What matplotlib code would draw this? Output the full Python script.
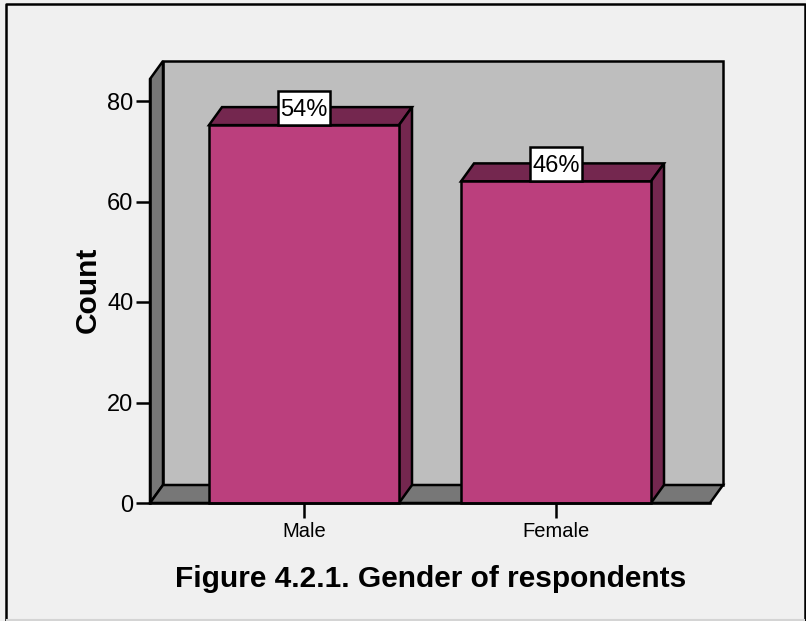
import matplotlib
matplotlib.use("Agg")
import matplotlib.pyplot as plt
from matplotlib.lines import Line2D
from matplotlib.patches import Polygon, Rectangle

plt.rcParams["font.family"] = ["Liberation Sans", "DejaVu Sans"]

categories = ["Male", "Female"]
counts = [75.2, 64.0]
percent_labels = ["54%", "46%"]
y_ticks = [0, 20, 40, 60, 80]

WALL = "#bebebe"
SIDE = "#777777"
BAR = "#bb3f7d"
BAR_DARK = "#74274f"
BG = "#f0f0f0"
LW = 1.8

W, H = 806, 621
fig = plt.figure(figsize=(W / 100, H / 100), dpi=100, facecolor=BG)

# cadre de l'image: noir sur trois cotes, gris clair en bas
fx = [5.5 / W, 5.5 / W, 805 / W, 805 / W]
fy = [0, 1 - 4 / H, 1 - 4 / H, 0]
fig.add_artist(Line2D(fx, fy, transform=fig.transFigure, color="black", linewidth=1.8))
fig.add_artist(Line2D([6.5 / W, 804 / W], [1 / H, 1 / H], transform=fig.transFigure,
                      color="#d4d4d4", linewidth=1.5))

# plan avant en pixels: x 150-710, y 79-503
ax = fig.add_axes([150 / W, 1 - 503 / H, 560 / W, 424 / H])
ax.set_xlim(-154 / 252, 406 / 252)
ax.set_ylim(0, 424 / 5.025)
ax.patch.set_visible(False)
for side in ["top", "right"]:
    ax.spines[side].set_visible(False)
ax.spines["left"].set_linewidth(LW)
ax.spines["bottom"].set_linewidth(LW)

dx = 13 / 252
dy = 18 / 5.025
x0, x1 = ax.get_xlim()
y0, y1 = ax.get_ylim()
bar_w = 190 / 252


def face(points, color, z):
    ax.add_patch(Polygon(points, closed=True, facecolor=color, edgecolor="black",
                         linewidth=LW, joinstyle="miter", clip_on=False, zorder=z))


# parois
face([(x0 + dx, y0 + dy), (x1 + dx, y0 + dy), (x1 + dx, y1 + dy), (x0 + dx, y1 + dy)], WALL, 1)
face([(x0, y0), (x0 + dx, y0 + dy), (x0 + dx, y1 + dy), (x0, y1)], SIDE, 1)
face([(x0, y0), (x1, y0), (x1 + dx, y0 + dy), (x0 + dx, y0 + dy)], SIDE, 1)

# barres
for i, (value, label) in enumerate(zip(counts, percent_labels)):
    left = i - bar_w / 2
    right = i + bar_w / 2
    face([(left, value), (right, value), (right + dx, value + dy), (left + dx, value + dy)], BAR_DARK, 3)
    face([(right, 0), (right + dx, dy), (right + dx, value + dy), (right, value)], BAR_DARK, 3)
    face([(left, 0), (right, 0), (right, value), (left, value)], BAR, 4)
    # etiquette
    box_w = 52 / 252
    box_h = 34 / 5.025
    ax.add_patch(Rectangle((i - box_w / 2, value), box_w, box_h, facecolor="white",
                           edgecolor="black", linewidth=LW, clip_on=False, zorder=5))
    ax.text(i, value + box_h / 2 - 0.4, label, ha="center", va="center", fontsize=17,
            color="black", zorder=6)

ax.set_xticks(range(len(categories)), categories)
ax.set_yticks(y_ticks)
ax.tick_params(axis="x", length=11, width=LW, labelsize=14.5, pad=3)
ax.tick_params(axis="y", length=10, width=LW, labelsize=17, pad=2)
for spine in ax.spines.values():
    spine.set_zorder(7)

fig.text(88 / W, 1 - 290 / H, "Count", rotation=90, ha="center", va="center",
         fontsize=21.5, fontweight="bold")
fig.text(431 / W, 1 - 579 / H, "Figure 4.2.1. Gender of respondents", ha="center", va="center",
         fontsize=21.5, fontweight="bold")

fig.savefig("out.png", dpi=100, facecolor=BG)
